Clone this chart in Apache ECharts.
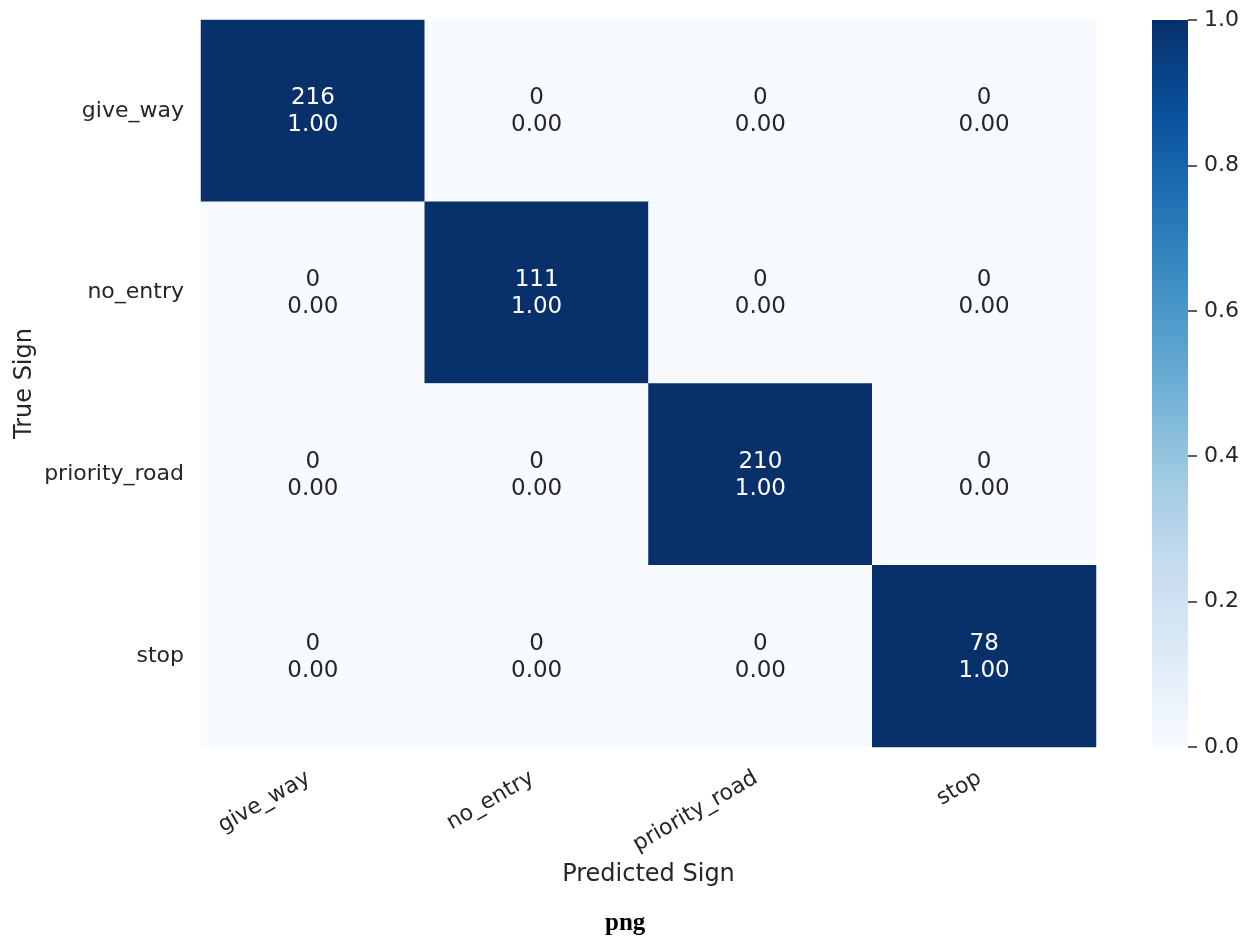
<!DOCTYPE html>
<html>
<head>
<meta charset="utf-8">
<script src="https://cdn.jsdelivr.net/npm/echarts@6/dist/echarts.min.js"></script>
<style>
  html, body { margin: 0; padding: 0; background: #ffffff; }
  #chart { width: 1248px; height: 942px; }
</style>
</head>
<body>
<div id="chart"></div>
<script>
// Confusion matrix of traffic-sign predictions
const predictedLabels = ['give_way', 'no_entry', 'priority_road', 'stop'];
const trueLabels = ['give_way', 'no_entry', 'priority_road', 'stop'];
// counts[row = true sign][col = predicted sign]
const counts = [
  [216, 0, 0, 0],
  [0, 111, 0, 0],
  [0, 0, 210, 0],
  [0, 0, 0, 78]
];
const colorbarTicks = [0, 0.2, 0.4, 0.6, 0.8, 1.0];
// Blues colour map
const blues = ['#f7fbff', '#deebf7', '#c6dbef', '#9ecae1', '#6baed6', '#4292c6', '#2171b5', '#08519c', '#08306b'];

const textColor = '#262626';
const font = 'DejaVu Sans';

// row-normalised cells: value = [col, row, normalised, count]
const cells = [];
counts.forEach((row, r) => {
  const total = row.reduce((a, b) => a + b, 0);
  row.forEach((c, col) => {
    const norm = total ? c / total : 0;
    cells.push({
      value: [col, r, norm, c],
      label: { color: norm > 0.5 ? '#ffffff' : textColor }
    });
  });
});

const chart = echarts.init(document.getElementById('chart'), null, { renderer: 'canvas' });

const gradStops = blues.map((c, i) => ({ offset: i / (blues.length - 1), color: c }));

chart.setOption({
  backgroundColor: '#ffffff',
  animation: false,
  textStyle: { fontFamily: font },
  grid: [
    { left: 201, top: 20, width: 895, height: 727, containLabel: false },
    { left: 1152, top: 20, width: 36, height: 727, containLabel: false }
  ],
  xAxis: [
    {
      gridIndex: 0, type: 'category', data: predictedLabels,
      name: 'Predicted Sign', nameLocation: 'middle', nameGap: 113,
      nameTextStyle: { color: textColor, fontSize: 24, fontFamily: font },
      axisLine: { show: false }, axisTick: { show: false }, splitLine: { show: false },
      axisLabel: {
        rotate: 30, color: textColor, fontSize: 22, fontFamily: font, margin: 27, interval: 0,
        padding: [0, 5, 0, 0]
      }
    },
    {
      gridIndex: 1, type: 'category', data: [''], show: false
    }
  ],
  yAxis: [
    {
      gridIndex: 0, type: 'category', data: trueLabels, inverse: true,
      name: 'True Sign', nameLocation: 'middle', nameGap: 164, nameRotate: 90,
      nameMoveOverlap: false,
      nameTextStyle: { color: textColor, fontSize: 24, fontFamily: font },
      axisLine: { show: false }, axisTick: { show: false }, splitLine: { show: false },
      axisLabel: { color: textColor, fontSize: 22, fontFamily: font, margin: 17, interval: 0 }
    },
    {
      gridIndex: 1, type: 'value', min: colorbarTicks[0], max: colorbarTicks[colorbarTicks.length - 1],
      interval: colorbarTicks[1] - colorbarTicks[0], position: 'right',
      axisLine: { show: false }, splitLine: { show: false },
      axisTick: { show: true, length: 9, lineStyle: { color: textColor, width: 1.5 } },
      axisLabel: {
        color: textColor, fontSize: 22, fontFamily: font, margin: 16,
        formatter: v => v.toFixed(1)
      }
    }
  ],
  visualMap: {
    show: false, type: 'continuous', min: 0, max: 1, dimension: 2, seriesIndex: 0,
    inRange: { color: blues }
  },
  series: [
    {
      type: 'heatmap', xAxisIndex: 0, yAxisIndex: 0, data: cells,
      itemStyle: { borderWidth: 0 },
      label: {
        show: true, fontSize: 23, fontFamily: font, lineHeight: 27, offset: [0, 1],
        formatter: p => p.value[3] + '\n' + p.value[2].toFixed(2)
      },
      emphasis: { disabled: true }
    },
    {
      // colour bar
      type: 'bar', xAxisIndex: 1, yAxisIndex: 1, data: [1], barWidth: '100%',
      silent: true,
      itemStyle: { color: new echarts.graphic.LinearGradient(0, 1, 0, 0, gradStops) }
    }
  ],
  graphic: [
    {
      type: 'text', left: 605, top: 911,
      style: { text: 'png', font: 'bold 25px "Liberation Serif"', fill: '#000000' }
    }
  ]
});
</script>
</body>
</html>
